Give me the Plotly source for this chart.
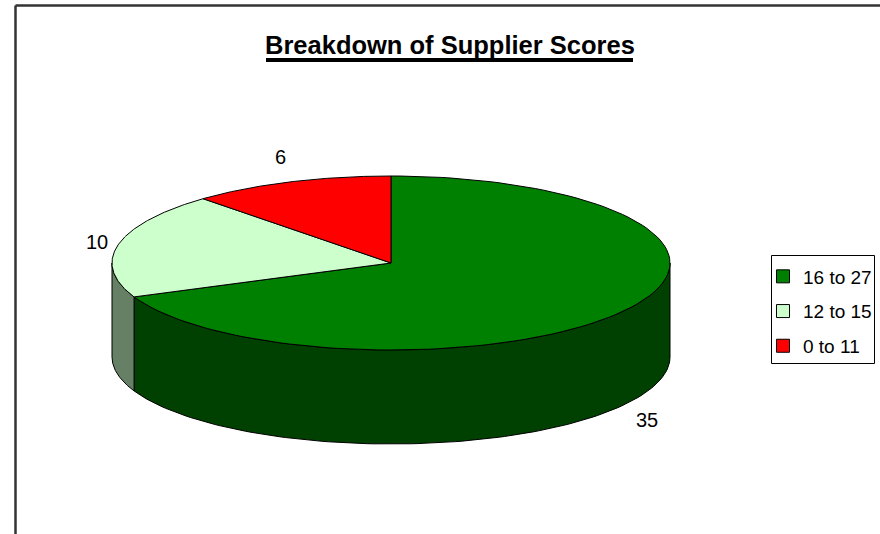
import numpy as np
import plotly.graph_objects as go

# ---- data ----
categories = ["16 to 27", "12 to 15", "0 to 11"]
values = [35, 10, 6]
top_colors = ["#008000", "#CCFFCC", "#FF0000"]
side_colors = ["#004000", "#658065", "#800000"]
title_text = "Breakdown of Supplier Scores"

# ---- geometry (pixel-like coordinates, y grows downward) ----
W, H = 880, 534
CX, CY = 391, 263
RX, RY = 279, 87
DEPTH = 94
label_xy = [(647, 420), (97, 242), (280, 157)]

fig = go.Figure()

total = float(sum(values))
bounds = np.cumsum([0] + values) / total * 360.0


def arc(a0, a1, y0, n=120):
    t = np.radians(np.linspace(a0, a1, n))
    return CX + RX * np.sin(t), y0 - RY * np.cos(t)


# side walls (front half only: 90..270 deg clockwise from top)
for i, (a0, a1) in enumerate(zip(bounds[:-1], bounds[1:])):
    lo, hi = max(a0, 90.0), min(a1, 270.0)
    if hi <= lo:
        continue
    xt, yt = arc(lo, hi, CY)
    xb, yb = arc(hi, lo, CY + DEPTH)
    xs = np.concatenate([xt, xb, xt[:1]])
    ys = np.concatenate([yt, yb, yt[:1]])
    fig.add_trace(go.Scatter(x=xs, y=ys, mode="lines", fill="toself",
                             fillcolor=side_colors[i],
                             line=dict(color="black", width=1),
                             hoverinfo="skip", showlegend=False))

# top faces
for i, (a0, a1) in enumerate(zip(bounds[:-1], bounds[1:])):
    xa, ya = arc(a0, a1, CY)
    xs = np.concatenate([[CX], xa, [CX]])
    ys = np.concatenate([[CY], ya, [CY]])
    fig.add_trace(go.Scatter(x=xs, y=ys, mode="lines", fill="toself",
                             fillcolor=top_colors[i],
                             line=dict(color="black", width=1),
                             name=categories[i], text=[str(values[i])] * len(xs),
                             hoverinfo="name+text", showlegend=False))

# legend entries
for i, cat in enumerate(categories):
    fig.add_trace(go.Scatter(x=[None], y=[None], mode="markers", name=cat,
                             legendgroup=cat,
                             marker=dict(symbol="square", size=13, color=top_colors[i],
                                         line=dict(color="black", width=1))))

# value labels
for (lx, ly), v in zip(label_xy, values):
    fig.add_annotation(x=lx, y=ly, text=str(v), showarrow=False,
                       xanchor="center", yanchor="middle",
                       font=dict(family="Liberation Sans, Arial", size=20, color="black"))

# title
fig.add_annotation(x=449.5, y=45, text="<b>" + title_text + "</b>", showarrow=False,
                   xanchor="center", yanchor="middle",
                   font=dict(family="Liberation Sans, Arial", size=25.5, color="black"))
fig.add_shape(type="line", x0=266, x1=633, y0=60, y1=60,
              line=dict(color="black", width=4))

# chart frame (top and left edges visible)
fig.add_shape(type="line", x0=15.5, y0=5.5, x1=W, y1=5.5,
              line=dict(color="#333333", width=2.5))
fig.add_shape(type="line", x0=15.5, y0=5.5, x1=15.5, y1=H,
              line=dict(color="#333333", width=2.5))

# legend frame
fig.add_shape(type="rect", x0=771.5, x1=874.5, y0=255.5, y1=363.5,
              line=dict(color="black", width=1), fillcolor="rgba(0,0,0,0)")

fig.update_layout(
    width=W, height=H,
    margin=dict(l=0, r=0, t=0, b=0, autoexpand=False),
    paper_bgcolor="white", plot_bgcolor="white",
    xaxis=dict(range=[0, W], visible=False, fixedrange=True),
    yaxis=dict(range=[H, 0], visible=False, fixedrange=True),
    showlegend=True,
    legend=dict(x=877 / W, y=1 - 257.5 / H, xanchor="right", yanchor="top",
                borderwidth=0, bgcolor="rgba(0,0,0,0)",
                tracegroupgap=7, itemwidth=30,
                font=dict(family="Liberation Sans, Arial", size=19, color="black")),
)

fig.write_html("out.html", config={"displayModeBar": False},
               post_script="document.body.style.margin='0';document.body.style.overflow='hidden';")
